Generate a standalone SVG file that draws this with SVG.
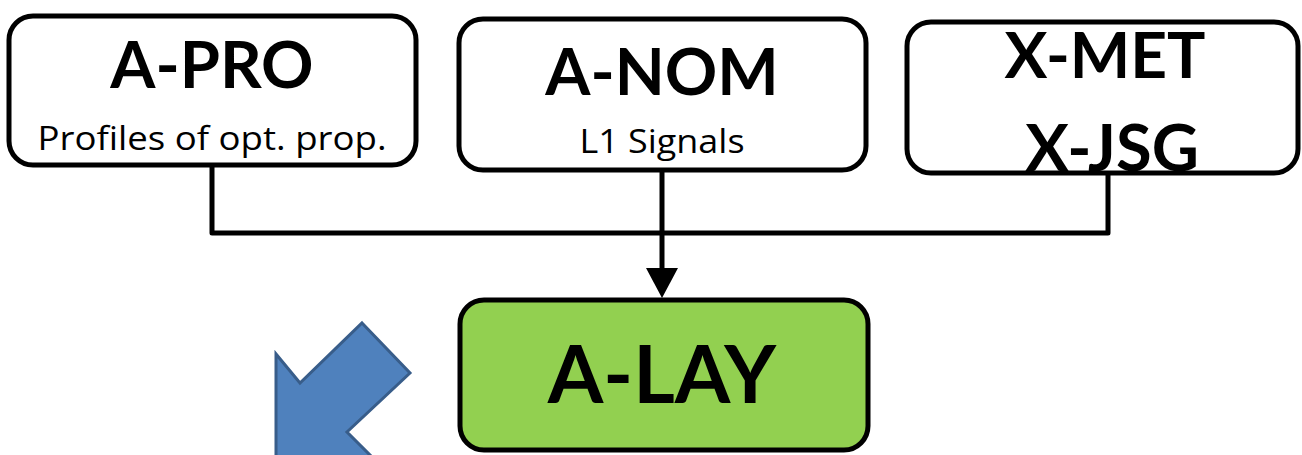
<svg xmlns="http://www.w3.org/2000/svg" width="1302" height="455" viewBox="0 0 1302 455">
  <style>
    .box { fill: #ffffff; stroke: #000000; stroke-width: 5; }
    .green { fill: #92d050; stroke: #000000; stroke-width: 5; }
    .title { font-family: Lato, "Open Sans", sans-serif; font-weight: bold; fill: #000000; text-anchor: middle; }
    .sub { font-family: "Open Sans", Lato, sans-serif; font-weight: normal; fill: #000000; text-anchor: middle; }
    .wire { fill: none; stroke: #000000; stroke-width: 5; stroke-linejoin: round; }
  </style>
  <rect width="1302" height="455" fill="#ffffff"/>

  <g id="connectors">
    <polyline class="wire" points="212,165 212,233 1108,233 1108,173"/>
    <line class="wire" x1="662" y1="170" x2="662" y2="270"/>
    <polygon points="646,268 678,268 662,298" fill="#000000"/>
  </g>

  <g id="a-pro">
    <rect class="box" x="9" y="16" width="407" height="149" rx="24"/>
    <text class="title" x="212" y="88" font-size="65">A-PRO</text>
    <text class="sub" x="212" y="150" font-size="32" textLength="349" lengthAdjust="spacingAndGlyphs">Profiles of opt. prop.</text>
  </g>

  <g id="a-nom">
    <rect class="box" x="459" y="19" width="407" height="151" rx="24"/>
    <text class="title" x="662" y="95" font-size="65">A-NOM</text>
    <text class="sub" x="662" y="153" font-size="32" textLength="165" lengthAdjust="spacingAndGlyphs">L1 Signals</text>
  </g>

  <g id="x-met-jsg">
    <rect class="box" x="907" y="22" width="391" height="151" rx="24"/>
    <text class="title" x="1105" y="78" font-size="64">X-MET</text>
    <text class="title" x="1112" y="171" font-size="65">X-JSG</text>
  </g>

  <g id="a-lay">
    <rect class="green" x="460" y="300" width="408" height="150" rx="24"/>
    <text class="title" x="662" y="403" font-size="80">A-LAY</text>
  </g>

  <g id="output-arrow">
    <polygon points="362,323 410,373 347,432 391,476 276,476 276,354 300,383" fill="#4f81bd" stroke="#385d8a" stroke-width="3" stroke-linejoin="miter"/>
  </g>
</svg>
